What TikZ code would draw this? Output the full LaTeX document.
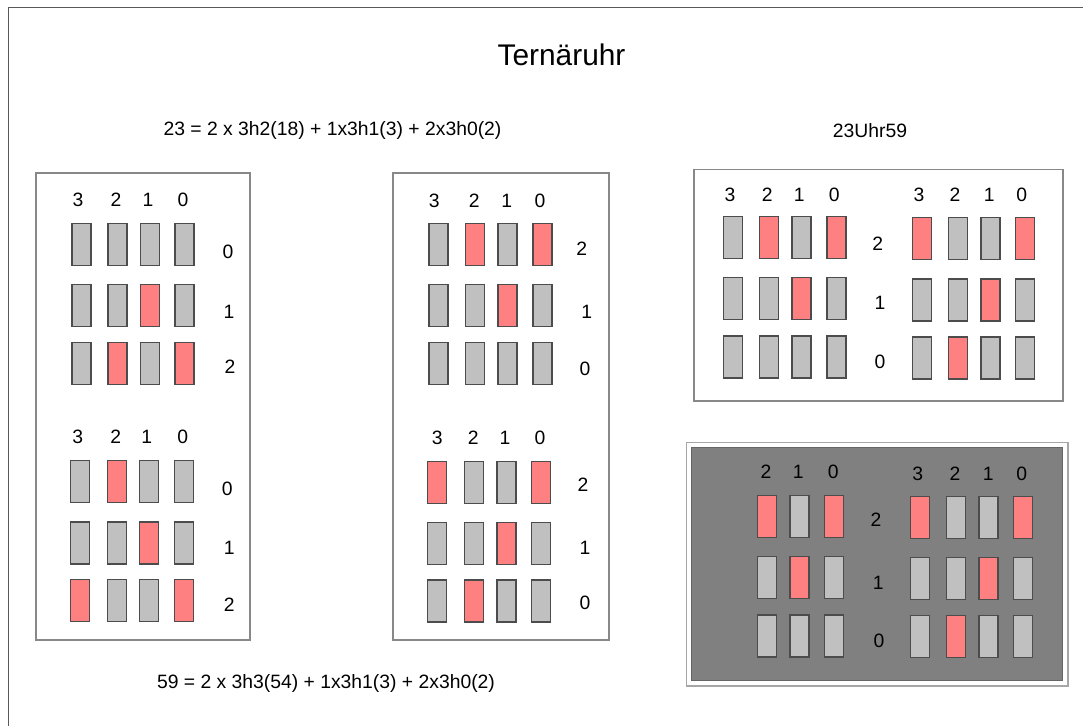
\documentclass[tikz,border=0pt]{standalone}
\usepackage{fontspec}
\setmainfont{Liberation Sans}

\definecolor{balkengrau}{RGB}{192,192,192}
\definecolor{balkenrot}{RGB}{255,128,128}
\definecolor{randgrau}{RGB}{136,136,136}
\definecolor{dunkel}{RGB}{128,128,128}

\tikzset{
  balken/.style={draw=black!70, line width=0.6pt, fill=balkengrau,
    minimum width=0.38cm, minimum height=0.84cm, inner sep=0pt},
  ein/.style={fill=balkenrot},
  aus/.style={},
  kasten/.style={draw=randgrau, line width=0.6pt},
  ziffer/.style={font=\fontsize{11}{13}\selectfont, inner sep=0pt},
  text11/.style={font=\fontsize{11}{13}\selectfont, inner sep=0pt},
}

\begin{document}
\begin{tikzpicture}[x=0.02cm, y=-0.02cm]
  \useasboundingbox (0,0) rectangle (1083,726);

  % Rahmen (Blattrand)
  \draw[black!65, line width=0.8pt] (1100,7.5) -- (8.5,7.5) -- (8.5,740);

  % Titel und Formeln
  \node[font=\fontsize{17}{20}\selectfont, inner sep=0pt] (titel) at (561.5,55) {Ternäruhr};
  \node[text11] (formel23) at (332.5,131) {23 = 2 x 3h2(18) + 1x3h1(3) + 2x3h0(2)};
  \node[text11] (uhrzeit) at (870,131) {23Uhr59};
  \node[text11] (formel59) at (326,683) {59 = 2 x 3h3(54) + 1x3h1(3) + 2x3h0(2)};

  % Kaesten
  \draw[kasten] (36,173) rectangle (250,640);
  \draw[kasten] (393,173) rectangle (609,640);
  \draw[kasten] (694,169.5) rectangle (1063,401);
  \draw[draw=gray!70, line width=0.8pt, fill=white] (686.5,442.5) rectangle (1068,686);
  \draw[draw=black!60, line width=0.6pt, fill=dunkel] (691.7,447.3) rectangle (1062.3,680.7);

  % --- links oben (Stunden) ---
  \foreach \c/\x in {3/78,2/116,1/148,0/183}
    \node[ziffer] (ho-k\c) at (\x,200) {\c};
  \foreach \r/\y/\a/\b/\cc/\d in {0/244.3/aus/aus/aus/aus, 1/305.3/aus/aus/ein/aus, 2/363.5/aus/ein/aus/ein}{
    \node[balken,\a] (ho\r-3) at (81.5,\y) {};
    \node[balken,\b] (ho\r-2) at (117.5,\y) {};
    \node[balken,\cc] (ho\r-1) at (150,\y) {};
    \node[balken,\d] (ho\r-0) at (184.5,\y) {};
  }
  \node[ziffer] (ho-z0) at (228,252) {0};
  \node[ziffer] (ho-z1) at (229,312) {1};
  \node[ziffer] (ho-z2) at (230,367) {2};

  % --- links unten (Minuten) ---
  \foreach \c/\x in {3/77.7,2/115.7,1/146.7,0/182.7}
    \node[ziffer] (hu-k\c) at (\x,437) {\c};
  \foreach \r/\y/\a/\b/\cc/\d in {0/481.8/aus/ein/aus/aus, 1/543/aus/aus/ein/aus, 2/600.8/ein/aus/aus/ein}{
    \node[balken,\a] (hu\r-3) at (80.3,\y) {};
    \node[balken,\b] (hu\r-2) at (117,\y) {};
    \node[balken,\cc] (hu\r-1) at (149.3,\y) {};
    \node[balken,\d] (hu\r-0) at (183.8,\y) {};
  }
  \node[ziffer] (hu-z0) at (227.3,489.3) {0};
  \node[ziffer] (hu-z1) at (229.3,548.3) {1};
  \node[ziffer] (hu-z2) at (229.3,605) {2};

  % --- Mitte oben ---
  \foreach \c/\x in {3/434.3,2/474.3,1/506.7,0/540}
    \node[ziffer] (mo-k\c) at (\x,201) {\c};
  \foreach \r/\y/\a/\b/\cc/\d in {2/244.7/aus/ein/aus/ein, 1/305.3/aus/aus/ein/aus, 0/363.5/aus/aus/aus/aus}{
    \node[balken,\a] (mo\r-3) at (438.5,\y) {};
    \node[balken,\b] (mo\r-2) at (475.3,\y) {};
    \node[balken,\cc] (mo\r-1) at (507.5,\y) {};
    \node[balken,\d] (mo\r-0) at (542.5,\y) {};
  }
  \node[ziffer] (mo-z2) at (581.7,248.3) {2};
  \node[ziffer] (mo-z1) at (586.7,311.7) {1};
  \node[ziffer] (mo-z0) at (585,369.3) {0};

  % --- Mitte unten ---
  \foreach \c/\x in {3/437.3,2/473.3,1/505,0/540}
    \node[ziffer] (mu-k\c) at (\x,437.7) {\c};
  \foreach \r/\y/\a/\b/\cc/\d in {2/482.2/ein/aus/aus/ein, 1/543.2/aus/aus/ein/aus, 0/601/aus/ein/aus/aus}{
    \node[balken,\a] (mu\r-3) at (437.2,\y) {};
    \node[balken,\b] (mu\r-2) at (473.8,\y) {};
    \node[balken,\cc] (mu\r-1) at (506.5,\y) {};
    \node[balken,\d] (mu\r-0) at (541.2,\y) {};
  }
  \node[ziffer] (mu-z2) at (583,485) {2};
  \node[ziffer] (mu-z1) at (585,548) {1};
  \node[ziffer] (mu-z0) at (585,603) {0};

  % --- Uhr 23:59 (hell) ---
  \foreach \c/\x in {3/730,2/767.3,1/799.3,0/834.3}
    \node[ziffer] (ul-k\c) at (\x,195) {\c};
  \foreach \r/\y/\a/\b/\cc/\d in {2/237.7/aus/ein/aus/ein, 1/298.7/aus/aus/ein/aus, 0/357/aus/aus/aus/aus}{
    \node[balken,\a] (ul\r-3) at (733,\y) {};
    \node[balken,\b] (ul\r-2) at (769,\y) {};
    \node[balken,\cc] (ul\r-1) at (801.5,\y) {};
    \node[balken,\d] (ul\r-0) at (836.5,\y) {};
  }
  \node[ziffer] (u-z2) at (877.7,243.3) {2};
  \node[ziffer] (u-z1) at (880,303.3) {1};
  \node[ziffer] (u-z0) at (880,361.7) {0};
  \foreach \c/\x in {3/919,2/955,1/989.3,0/1021.7}
    \node[ziffer] (ur-k\c) at (\x,195) {\c};
  \foreach \r/\y/\a/\b/\cc/\d in {2/238.7/ein/aus/aus/ein, 1/300/aus/aus/ein/aus, 0/358/aus/ein/aus/aus}{
    \node[balken,\a] (ur\r-3) at (922,\y) {};
    \node[balken,\b] (ur\r-2) at (958,\y) {};
    \node[balken,\cc] (ur\r-1) at (990.5,\y) {};
    \node[balken,\d] (ur\r-0) at (1025,\y) {};
  }

  % --- Uhr 23:59 (dunkel) ---
  \foreach \c/\x in {2/766,1/798.3,0/833.3}
    \node[ziffer] (dl-k\c) at (\x,472) {\c};
  \foreach \r/\y/\b/\cc/\d in {2/516.5/ein/aus/ein, 1/577.5/aus/ein/aus, 0/636/aus/aus/aus}{
    \node[balken,\b] (dl\r-2) at (767,\y) {};
    \node[balken,\cc] (dl\r-1) at (799.5,\y) {};
    \node[balken,\d] (dl\r-0) at (834,\y) {};
  }
  \node[ziffer] (d-z2) at (876,520) {2};
  \node[ziffer] (d-z1) at (878.3,583.3) {1};
  \node[ziffer] (d-z0) at (879,640.7) {0};
  \foreach \c/\x in {3/917.7,2/955,1/988.3,0/1021.7}
    \node[ziffer] (dr-k\c) at (\x,474) {\c};
  \foreach \r/\y/\a/\b/\cc/\d in {2/517.5/ein/aus/aus/ein, 1/578.7/aus/aus/ein/aus, 0/636.8/aus/ein/aus/aus}{
    \node[balken,\a] (dr\r-3) at (920,\y) {};
    \node[balken,\b] (dr\r-2) at (956,\y) {};
    \node[balken,\cc] (dr\r-1) at (988.5,\y) {};
    \node[balken,\d] (dr\r-0) at (1023,\y) {};
  }

\end{tikzpicture}
\end{document}
